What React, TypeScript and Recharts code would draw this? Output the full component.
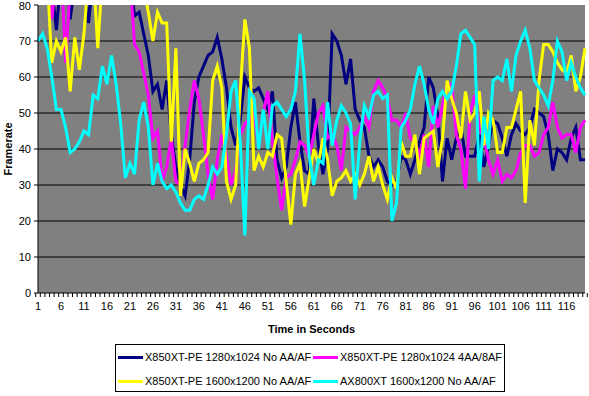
import React from 'react';
import { LineChart, Line, XAxis, YAxis, CartesianGrid, Legend } from 'recharts';

// seconds 1..120 on the category axis
const seconds: string[] = Array.from({ length: 120 }, (_, i) => String(i + 1));

const seriesNames = [
  'X850XT-PE 1280x1024 No AA/AF',
  'X850XT-PE 1280x1024 4AA/8AF',
  'X850XT-PE 1600x1200 No AA/AF',
  'AX800XT 1600x1200 No AA/AF',
];
const seriesColors = ['#000080', '#FF00FF', '#FFFF00', '#00FFFF'];

// values above 80 run off the top of the plot, as in the original
const x850Low = [
  90, 95, 88, 85, 73, 88, 90, 76, 86, 92, 88, 75, 88, 95, 92, 90, 95, 92, 90, 94,
  88, 77, 78, 72, 66, 56, 58, 51, 59, 44, 35, 30, 27, 37, 53, 60, 63, 66, 67, 71,
  65, 57, 46, 41, 48, 60, 57, 56, 57, 54, 51, 56, 37, 32, 35, 46, 53, 42, 34, 33,
  54, 41, 33, 40, 72, 70, 66, 58, 65, 51, 48, 46, 38, 35, 37, 35, 31, 30, 31, 38,
  37, 33, 37, 42, 46, 60, 57, 49, 31, 43, 37, 43, 46, 38, 38, 38, 44, 35, 41, 48,
  47, 43, 38, 44, 47, 45, 44, 46, 51, 50, 49, 44, 34, 40, 39, 37, 43, 46, 37, 37,
];

const x850LowAA = [
  88, 90, 85, 76, 88, 92, 64, 85, 92, 90, 94, 92, 90, 88, 92, 95, 90, 92, 88, 90,
  88, 69, 67, 61, 55, 43, 45, 31, 35, 43, 31, 30, 41, 51, 59, 54, 44, 33, 26, 37,
  44, 38, 30, 34, 44, 47, 48, 50, 41, 50, 56, 42, 32, 23, 32, 33, 37, 42, 41, 38,
  44, 50, 52, 43, 44, 41, 34, 46, 45, 44, 46, 49, 46, 56, 59, 57, 54, 48, 48, 46,
  50, 43, 42, 38, 44, 35, 52, 46, 52, 58, 58, 44, 40, 29, 50, 55, 46, 43, 37, 33,
  37, 31, 33, 32, 34, 39, 41, 41, 38, 39, 44, 46, 53, 46, 43, 44, 44, 39, 46, 48,
];

const x850High = [
  90, 92, 88, 64, 70, 67, 71, 56, 71, 62, 72, 88, 90, 68, 88, 92, 90, 88, 92, 90,
  88, 92, 88, 85, 78, 70, 78, 75, 75, 42, 68, 27, 40, 36, 31, 36, 37, 39, 59, 63,
  57, 31, 26, 30, 56, 76, 68, 34, 38, 35, 39, 38, 44, 43, 31, 19, 33, 36, 24, 32,
  40, 36, 43, 37, 27, 31, 32, 34, 31, 33, 30, 33, 38, 31, 35, 30, 26, 32, 29, 42,
  38, 38, 44, 33, 43, 44, 45, 35, 43, 59, 54, 50, 43, 56, 48, 50, 56, 41, 50, 48,
  39, 39, 46, 46, 51, 56, 25, 48, 41, 59, 69, 69, 67, 64, 62, 61, 66, 56, 60, 68,
];

const ax800High = [
  70, 72, 68, 60, 51, 51, 46, 39, 40, 42, 45, 44, 55, 54, 63, 58, 66, 58, 47, 32,
  36, 33, 48, 53, 46, 30, 36, 31, 29, 30, 28, 25, 23, 23, 26, 27, 26, 30, 35, 33,
  35, 44, 56, 59, 42, 16, 56, 54, 40, 51, 40, 52, 53, 51, 49, 51, 56, 72, 59, 38,
  30, 37, 36, 53, 41, 48, 52, 50, 47, 26, 42, 52, 49, 55, 56, 54, 55, 20, 25, 46,
  48, 51, 58, 63, 58, 51, 47, 54, 56, 54, 56, 63, 72, 73, 71, 69, 31, 49, 40, 59,
  60, 59, 65, 56, 66, 70, 73, 68, 59, 57, 55, 52, 59, 70, 67, 59, 64, 60, 57, 55,
];

const yTicks = [0, 10, 20, 30, 40, 50, 60, 70, 80];

const data = seconds.map((s, i) => ({
  sec: s,
  a: x850Low[i],
  b: x850LowAA[i],
  c: x850High[i],
  d: ax800High[i],
}));

const FONT = '"Liberation Sans", Arial, sans-serif';
const STEP = 547 / 120;

// every category gets a small tick on its boundary, every fifth a label
const TimeTick = (props: any) => {
  const { x, y, payload, index } = props;
  return (
    <g>
      <line x1={x - STEP / 2} x2={x - STEP / 2} y1={y} y2={y + 4} stroke="#000" />
      {index === 119 && <line x1={x + STEP / 2} x2={x + STEP / 2} y1={y} y2={y + 4} stroke="#000" />}
      {index % 5 === 0 && (
        <text x={x} y={y + 17} textAnchor="middle" fontSize={11} fontFamily={FONT} fill="#000">
          {payload.value}
        </text>
      )}
    </g>
  );
};

const LegendBox = () => (
  <div
    style={{
      border: '1px solid #000',
      width: 390,
      height: 48,
      boxSizing: 'border-box',
      display: 'grid',
      gridTemplateColumns: '195px 195px',
      gridTemplateRows: '24px 24px',
      alignItems: 'center',
      fontFamily: FONT,
      fontSize: 11,
      color: '#000',
      paddingLeft: 2,
    }}
  >
    {[0, 1, 2, 3].map((k) => (
      <div key={k} style={{ display: 'flex', alignItems: 'center', whiteSpace: 'nowrap' }}>
        <span style={{ display: 'inline-block', width: 25, height: 3, background: seriesColors[k], marginRight: 2 }} />
        {seriesNames[k]}
      </div>
    ))}
  </div>
);

export default function App() {
  return (
    <div style={{ position: 'absolute', left: 0, top: 0, width: 589, height: 396, background: '#fff' }}>
      <LineChart width={589} height={396} data={data} margin={{ top: 5, right: 4, left: 0, bottom: 63 }}>
        <CartesianGrid
          vertical={false}
          horizontalValues={[10, 20, 30, 40, 50, 60, 70]}
          stroke="#000"
          strokeOpacity={1}
          fill="#808080"
          fillOpacity={1}
        />
        <XAxis
          dataKey="sec"
          interval={0}
          height={40}
          tickSize={0}
          tickMargin={0}
          tickLine={false}
          axisLine={{ stroke: '#000' }}
          tick={<TimeTick />}
          label={{
            value: 'Time in Seconds',
            position: 'insideBottom',
            offset: 0,
            style: { fontFamily: FONT, fontSize: 11, fontWeight: 'bold', fill: '#000' },
          }}
        />
        <YAxis
          domain={[0, 80]}
          ticks={yTicks}
          allowDataOverflow
          width={38}
          tickSize={4}
          tickMargin={3}
          axisLine={{ stroke: '#000' }}
          tickLine={{ stroke: '#000' }}
          tick={{ fontFamily: FONT, fontSize: 11, fill: '#000' }}
          label={{
            value: 'Framerate',
            angle: -90,
            position: 'insideLeft',
            offset: 8,
            style: { fontFamily: FONT, fontSize: 11, fontWeight: 'bold', fill: '#000', textAnchor: 'middle' },
          }}
        />
        <Legend
          layout="horizontal"
          verticalAlign="middle"
          align="center"
          wrapperStyle={{ left: 115, top: 344, width: 392 }}
          content={() => <LegendBox />}
        />
        <Line dataKey="a" name={seriesNames[0]} stroke={seriesColors[0]} strokeWidth={3} dot={false} type="linear" isAnimationActive={false} />
        <Line dataKey="b" name={seriesNames[1]} stroke={seriesColors[1]} strokeWidth={3} dot={false} type="linear" isAnimationActive={false} />
        <Line dataKey="c" name={seriesNames[2]} stroke={seriesColors[2]} strokeWidth={3} dot={false} type="linear" isAnimationActive={false} />
        <Line dataKey="d" name={seriesNames[3]} stroke={seriesColors[3]} strokeWidth={3} dot={false} type="linear" isAnimationActive={false} />
      </LineChart>
    </div>
  );
}
